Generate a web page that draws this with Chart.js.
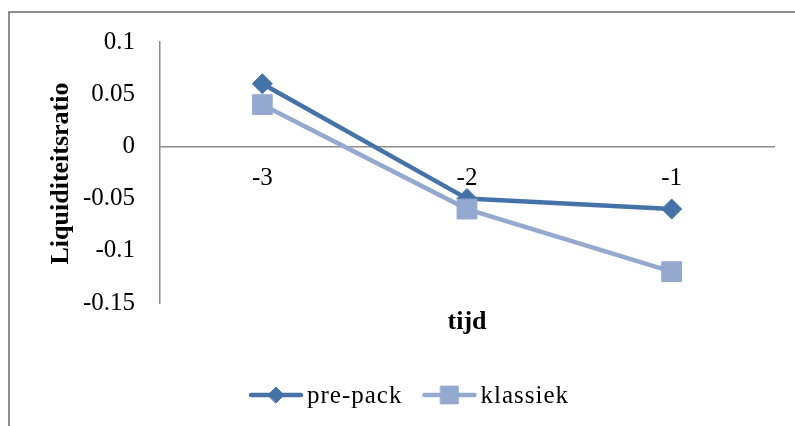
<!DOCTYPE html>
<html>
<head>
<meta charset="utf-8">
<script src="https://cdn.jsdelivr.net/npm/chart.js@4.4.1/dist/chart.umd.min.js"></script>
<style>
  html, body { margin: 0; padding: 0; background: #ffffff; }
  #wrap { width: 795px; height: 426px; }
</style>
</head>
<body>
<div id="wrap"><canvas id="c" width="795" height="426"></canvas></div>
<script>
// Time points and liquidity ratio per group
const categories = ['-3', '-2', '-1'];
const prePack = [0.06, -0.05, -0.06];
const klassiek = [0.04, -0.06, -0.12];
const yTicks = [0.1, 0.05, 0, -0.05, -0.1, -0.15];
const seriesNames = ['pre-pack', 'klassiek'];
const xTitle = 'tijd';
const yTitle = 'Liquiditeitsratio';

const FONT = '"Liberation Serif", "Times New Roman", serif';
const AXIS_GREY = '#8c8c8c';
const BLUE_DARK = '#4572A7';
const BLUE_LIGHT = '#93A9CF';

function fmt(v) {
  return String(parseFloat(Number(v).toFixed(2)));
}

// Frame, axis titles and the line+marker legend
const decorations = {
  id: 'decorations',
  beforeDraw(chart) {
    const ctx = chart.ctx;
    ctx.save();
    ctx.fillStyle = '#ffffff';
    ctx.fillRect(0, 0, chart.width, chart.height);
    ctx.strokeStyle = AXIS_GREY;
    ctx.lineWidth = 2;
    ctx.strokeRect(9, 12, 800, 430);
    ctx.restore();
  },
  afterDraw(chart) {
    const ctx = chart.ctx;
    const area = chart.chartArea;
    ctx.save();
    ctx.fillStyle = '#000000';
    ctx.font = 'bold 26px ' + FONT;
    ctx.textAlign = 'center';
    ctx.textBaseline = 'middle';
    // y axis title
    ctx.save();
    ctx.translate(61, (area.top + area.bottom) / 2 + 1);
    ctx.rotate(-Math.PI / 2);
    ctx.fillText(yTitle, 0, 0);
    ctx.restore();
    // x axis title
    ctx.fillText(xTitle, (area.left + area.right) / 2, 322);

    // legend
    ctx.font = '25px ' + FONT;
    if ('letterSpacing' in ctx) ctx.letterSpacing = '1px';
    const lineLen = 54, gapText = 4, gapItem = 20, legendY = 395;
    let x = 249;
    chart.data.datasets.forEach(ds => {
      const w = ctx.measureText(ds.label).width;
      ctx.strokeStyle = ds.borderColor;
      ctx.lineWidth = 4.5;
      ctx.lineCap = 'round';
      ctx.beginPath();
      ctx.moveTo(x + 2, legendY);
      ctx.lineTo(x + lineLen - 2, legendY);
      ctx.stroke();
      ctx.fillStyle = ds.backgroundColor;
      ctx.strokeStyle = ds.borderColor;
      ctx.lineWidth = 1;
      Chart.helpers.drawPoint(ctx, {
        pointStyle: ds.pointStyle,
        radius: ds.legendRadius,
        borderWidth: 1,
        rotation: 0
      }, x + lineLen / 2, legendY);
      ctx.fillStyle = '#000000';
      ctx.textAlign = 'left';
      ctx.fillText(ds.label, x + lineLen + gapText, legendY + 1);
      x += lineLen + gapText + w + gapItem;
    });
    ctx.restore();
  }
};

new Chart(document.getElementById('c'), {
  type: 'line',
  data: {
    labels: categories,
    datasets: [
      {
        label: seriesNames[0],
        data: prePack,
        borderColor: BLUE_DARK,
        backgroundColor: BLUE_DARK,
        borderWidth: 4.5,
        pointStyle: 'rectRot',
        pointRadius: 10,
        pointHoverRadius: 10,
        pointBorderWidth: 1,
        legendRadius: 8,
        tension: 0,
        order: 1
      },
      {
        label: seriesNames[1],
        data: klassiek,
        borderColor: BLUE_LIGHT,
        backgroundColor: BLUE_LIGHT,
        borderWidth: 4.5,
        pointStyle: 'rect',
        pointRadius: 14,
        pointHoverRadius: 14,
        pointBorderWidth: 1,
        legendRadius: 12.5,
        tension: 0,
        order: 0
      }
    ]
  },
  options: {
    responsive: false,
    animation: false,
    devicePixelRatio: 1,
    layout: { padding: { left: 50, right: 21, top: 42, bottom: 123 } },
    plugins: {
      legend: { display: false },
      tooltip: { enabled: false },
      title: { display: false }
    },
    scales: {
      x: {
        type: 'category',
        position: { y: 0 },
        offset: true,
        grid: { display: false, drawTicks: false },
        border: { display: true, color: AXIS_GREY, width: 1.5 },
        ticks: { color: '#000000', font: { family: FONT, size: 25 }, padding: 17, maxRotation: 0 }
      },
      y: {
        type: 'linear',
        min: -0.15,
        max: 0.1,
        afterBuildTicks: scale => { scale.ticks = yTicks.map(v => ({ value: v })); },
        afterFit: scale => { scale.width = 110; },
        grid: { display: false, drawTicks: false },
        border: { display: true, color: AXIS_GREY, width: 1.5 },
        ticks: {
          color: '#000000',
          font: { family: FONT, size: 25 },
          padding: 25,
          callback: v => fmt(v)
        }
      }
    }
  },
  plugins: [decorations]
});
</script>
</body>
</html>
